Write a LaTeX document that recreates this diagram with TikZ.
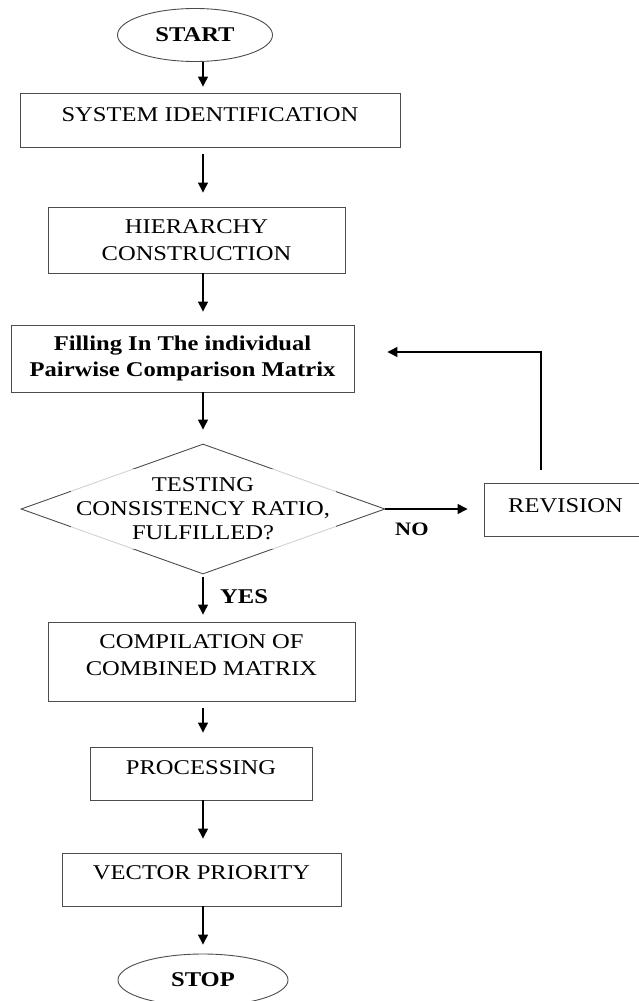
\documentclass[tikz,border=0pt]{standalone}
\usepackage{fontspec}
\setmainfont{Liberation Serif}[FakeStretch=1.17]
\usetikzlibrary{arrows.meta,shapes.geometric,positioning}

\newcommand{\pad}[1]{\rule[-#1]{0pt}{#1}}

\begin{document}
\begin{tikzpicture}[x=1pt,y=-1pt,
    font=\fontsize{21}{27}\selectfont,
    every node/.style={inner sep=0pt},
    box/.style={draw=black!70,line width=0.9pt,rectangle,align=center},
    term/.style={draw=black!70,line width=0.9pt,ellipse,font=\fontsize{21}{27}\selectfont\bfseries},
    flow/.style={-{Triangle[length=10pt,width=10pt]},line width=1.3pt}]
\useasboundingbox (0,0) rectangle (638,1001);
% main column
\node[term,minimum width=155pt,minimum height=53pt] (start) at (195,35) {START};
\node[box,minimum width=380pt,minimum height=54pt] (sysid) at (210,120) {SYSTEM IDENTIFICATION\pad{10pt}};
\node[box,minimum width=297pt,minimum height=66pt] (hier) at (196.5,240) {HIERARCHY\\CONSTRUCTION};
\node[box,minimum width=343pt,minimum height=67pt,font=\fontsize{21}{26}\selectfont\bfseries] (fill) at (182.5,358.5) {Filling In The individual\\Pairwise Comparison Matrix};
\node[draw=black!70,line width=0.9pt,diamond,minimum width=364pt,minimum height=130pt] (test) at (203,509) {};
\node[fill=white,fill opacity=0.75,text opacity=1,align=center,minimum width=265pt,minimum height=80pt,font=\fontsize{21}{24}\selectfont] (testtxt) at (test) {TESTING\\CONSISTENCY RATIO,\\FULFILLED?};
\node[box,minimum width=163pt,minimum height=53pt] (rev) at (565.5,510) {REVISION\pad{9pt}};
\node[box,minimum width=307pt,minimum height=79pt] (comp) at (201.5,661.5) {COMPILATION OF\\COMBINED MATRIX\pad{13pt}};
\node[box,minimum width=222pt,minimum height=53pt] (proc) at (201,773.5) {PROCESSING\pad{11pt}};
\node[box,minimum width=279pt,minimum height=53pt] (vec) at (201.5,879.5) {VECTOR PRIORITY\pad{13pt}};
\node[term,minimum width=170pt,minimum height=52pt] (stop) at (203,980) {STOP};
% labels
\node[anchor=west,font=\fontsize{21}{27}\selectfont\bfseries] (yes) at (220,597) {YES};
\node[anchor=west,font=\fontsize{19}{27}\selectfont\bfseries] (no) at (395,529) {NO};
% connectors
\draw[flow,shorten >=6pt] (start.south -| test) -- (sysid.north -| test);
\draw[flow,shorten <=7pt,shorten >=14pt] (sysid.south -| test) -- (hier.north -| test);
\draw[flow,shorten >=13pt] (hier.south -| test) -- (fill.north -| test);
\draw[flow,shorten >=14pt] (fill.south -| test) -- (test.north);
\draw[flow,shorten <=3pt,shorten >=7pt] (test.south) -- (comp.north -| test);
\draw[flow,shorten <=7pt,shorten >=14pt] (comp.south -| test) -- (proc.north -| test);
\draw[flow,shorten >=14pt] (proc.south -| test) -- (vec.north -| test);
\draw[flow,shorten >=9pt] (vec.south -| test) -- (stop.north -| test);
\draw[flow,shorten >=16pt] (test.east) -- (rev.west |- test.east);
\draw[flow,shorten <=13pt,shorten >=33pt] ([xshift=-24.5pt]rev.north) |- ([yshift=6.5pt]fill.east);
\end{tikzpicture}
\end{document}
